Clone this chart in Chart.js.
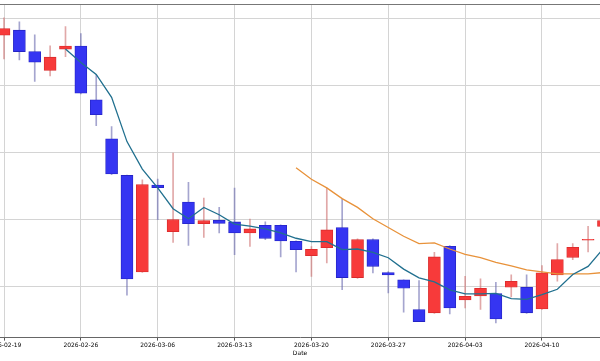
<!DOCTYPE html>
<html>
<head>
<meta charset="utf-8">
<script src="https://cdn.jsdelivr.net/npm/chart.js@4.4.1/dist/chart.umd.min.js"></script>
<style>
  html, body { margin: 0; padding: 0; background: #fff; }
  #wrap { width: 600px; height: 361px; overflow: hidden; position: relative; }
  #candles { position: absolute; left: -100px; top: 0; }
</style>
</head>
<body>
<div id="wrap"><canvas id="candles" width="800" height="361"></canvas></div>
<script>
// daily OHLC, index 0 = 2026-02-19
const opens = [137.46, 138.20, 135.01, 132.19, 135.37, 135.82, 127.83, 122.02, 116.56, 102.19,
               115.13, 108.18, 112.60, 109.38, 109.87, 109.63, 107.99, 109.12, 109.12, 106.74,
               104.61, 105.80, 108.78, 101.34, 106.99, 102.08, 101.00, 96.58, 96.09, 106.00,
               98.02, 98.62, 98.96, 99.90, 99.90, 96.68, 101.74, 104.36, 106.92, 108.97];
const highs = [140.03, 139.43, 137.50, 135.86, 138.74, 137.69, 131.55, 123.85, 116.60, 115.92,
               116.03, 119.90, 115.52, 113.20, 111.80, 114.69, 110.07, 109.63, 109.20, 106.80,
               105.95, 114.69, 113.05, 107.10, 107.10, 102.23, 101.00, 100.89, 105.10, 106.10,
               101.53, 101.15, 100.64, 101.74, 101.74, 103.13, 106.40, 106.40, 108.97, 110.30];
const lows = [133.93, 133.78, 130.55, 131.40, 134.27, 128.72, 123.96, 116.67, 98.71, 102.10,
              109.97, 106.59, 106.15, 107.34, 107.99, 104.76, 106.00, 106.99, 104.42, 102.19,
              101.53, 103.53, 99.55, 101.20, 102.04, 99.06, 96.18, 94.79, 96.00, 95.94,
              96.83, 96.58, 94.60, 98.47, 96.00, 96.60, 100.79, 104.02, 105.16, 108.50];
const closes = [138.44, 135.01, 133.44, 134.18, 135.82, 128.82, 125.60, 116.77, 101.15, 115.18,
                114.73, 109.97, 109.38, 109.82, 109.42, 107.99, 108.59, 107.19, 106.80, 105.51,
                105.55, 108.44, 101.34, 106.99, 103.02, 101.74, 99.75, 94.79, 104.42, 96.83,
                98.56, 99.75, 95.19, 100.79, 96.09, 102.04, 104.02, 105.85, 107.05, 109.82];

// moving averages
const ma5 = [null, null, null, null,
             135.4, 133.4, 131.6, 128.2, 121.6, 117.5, 114.7, 111.6, 110.1, 111.8,
             110.7, 109.3, 109.0, 108.6, 108.0, 107.2, 106.7, 106.7, 105.5, 105.6,
             105.1, 104.3, 102.6, 101.3, 100.7, 99.5, 98.9, 98.9, 99.0, 98.2,
             98.1, 98.8, 99.6, 101.8, 103.0, 105.7];
const ma20 = [null, null, null, null, null, null, null, null, null, null,
              null, null, null, null, null, null, null, null, null,
              117.7, 116.0, 114.7, 113.1, 111.8, 110.1, 108.8, 107.5, 106.4, 106.5,
              105.6, 104.8, 104.3, 103.6, 103.1, 102.5, 102.2, 101.9, 101.9, 101.9, 102.1];

const tickPos = [0, 5, 10, 15, 20, 25, 30, 35];
const tickLabels = ['2026-02-19', '2026-02-26', '2026-03-06', '2026-03-13',
                    '2026-03-20', '2026-03-27', '2026-04-03', '2026-04-10'];

Chart.defaults.font.family = 'DejaVu Sans';

const UP = '#f73a3a', DOWN = '#3535f2';
const isUp = closes.map((c, i) => c >= opens[i]);

const toPoints = arr => arr.map((v, i) => ({x: i, y: v})).filter(p => p.y !== null);

const yMax = 142.1;

new Chart(document.getElementById('candles'), {
    type: 'bar',
    data: {
        datasets: [
            {
                type: 'line',
                data: toPoints(ma5),
                borderColor: '#21708f',
                borderWidth: 1.3,
                pointRadius: 0,
                tension: 0,
                order: 0
            },
            {
                type: 'line',
                data: toPoints(ma20),
                borderColor: '#e8923a',
                borderWidth: 1.3,
                pointRadius: 0,
                tension: 0,
                order: 0
            },
            {
                data: opens.map((o, i) => ({x: i, y: [o, closes[i]]})),
                backgroundColor: isUp.map(u => u ? UP : DOWN),
                borderColor: isUp.map(u => u ? '#d82a2a' : '#2424c4'),
                borderWidth: 0.8,
                borderSkipped: false,
                barThickness: 12,
                grouped: false,
                order: 1
            },
            {
                // wicks
                data: lows.map((l, i) => ({x: i, y: [l, highs[i]]})),
                backgroundColor: isUp.map(u => u ? 'rgba(205,110,110,0.6)' : 'rgba(105,105,175,0.6)'),
                barThickness: 1,
                grouped: false,
                order: 2
            }
        ]
    },
    options: {
        responsive: false,
        animation: false,
        layout: { padding: { top: 4, left: 0, right: 0, bottom: 0 } },
        plugins: { legend: { display: false }, tooltip: { enabled: false } },
        scales: {
            x: {
                type: 'linear',
                position: 'bottom',
                min: -6.766,
                max: 45.28,
                offset: false,
                afterBuildTicks: scale => { scale.ticks = tickPos.map(v => ({value: v})); },
                ticks: {
                    autoSkip: false,
                    maxRotation: 0,
                    padding: 1,
                    color: '#000',
                    font: { size: 6 },
                    callback: (val, idx) => tickLabels[idx]
                },
                grid: { offset: false, color: '#d4d4d4', tickLength: 3, tickColor: '#555' },
                border: { color: '#666', width: 1 },
                title: { display: true, text: 'Date', color: '#000', font: { size: 6 }, padding: { top: 0, bottom: 4 } }
            },
            y: {
                type: 'linear',
                position: 'left',
                min: 92.4,
                max: yMax,
                afterBuildTicks: scale => { scale.ticks = [100, 110, 120, 130, 140, yMax].map(v => ({value: v})); },
                ticks: { display: false },
                grid: {
                    drawTicks: false,
                    color: ctx => (ctx.tick && ctx.tick.value === yMax) ? '#777' : '#d4d4d4'
                },
                border: { display: false }
            }
        }
    }
});
</script>
</body>
</html>
